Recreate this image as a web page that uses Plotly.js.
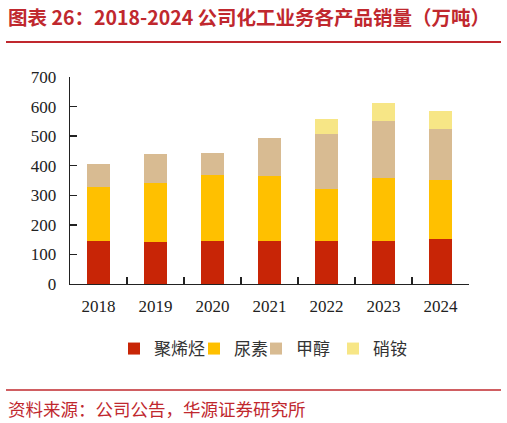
<!DOCTYPE html>
<html>
<head>
<meta charset="utf-8">
<script src="https://cdn.plot.ly/plotly-3.0.1.min.js"></script>
<style>
  html, body { margin: 0; padding: 0; background: #fff; }
  #chart { width: 507px; height: 423px; }
</style>
</head>
<body>
<div id="chart"></div>
<script>
var years = ['2018', '2019', '2020', '2021', '2022', '2023', '2024'];

// 万吨
var polyolefin = [144, 142, 144, 144, 144, 146, 151];
var urea = [184, 198, 226, 222, 178, 213, 201];
var methanol = [77, 99, 72, 127, 185, 191, 171];
var ammoniumNitrate = [null, null, null, null, 52, 62, 62];

var names = ['聚烯烃', '尿素', '甲醇', '硝铵'];
var colours = ['#C82506', '#FFC000', '#D8BB92', '#F7E686'];
var series = [polyolefin, urea, methanol, ammoniumNitrate];
// legend entry widths, so the entries sit as tight as in the source
var entryWidths = [35, 17, 32, 34];

var red = '#C0282E';
var serif = '"Liberation Serif", "Times New Roman", serif';
var cjk = '"Noto Sans CJK SC", sans-serif';

// plot box in pixels, used to place the title, rules and source line
var plotLeft = 70, plotRight = 469, plotTop = 77, plotBottom = 284;
function px(x) { return (x - plotLeft) / (plotRight - plotLeft); }
function py(y) { return (plotBottom - y) / (plotBottom - plotTop); }

var data = [];
for (var i = 0; i < series.length; i++) {
  data.push({
    type: 'bar',
    name: names[i],
    x: years,
    y: series[i],
    width: 0.42,
    legendwidth: entryWidths[i],
    marker: { color: colours[i], line: { width: 0 } },
    hoverinfo: 'skip'
  });
}

var layout = {
  width: 507,
  height: 423,
  margin: { l: plotLeft, r: 507 - plotRight, t: plotTop, b: 423 - plotBottom, pad: 0 },
  paper_bgcolor: '#ffffff',
  plot_bgcolor: '#ffffff',
  barmode: 'stack',
  showlegend: true,
  xaxis: {
    type: 'category',
    showgrid: false,
    zeroline: false,
    showline: true,
    linecolor: '#222',
    linewidth: 1.3,
    ticks: 'inside',
    tickson: 'boundaries',
    ticklen: 7,
    tickcolor: '#222',
    tickwidth: 1.3,
    tickfont: { family: serif, size: 17, color: '#222' },
    ticklabelstandoff: 6
  },
  yaxis: {
    range: [0, 700],
    dtick: 100,
    showgrid: false,
    zeroline: false,
    showline: true,
    linecolor: '#222',
    linewidth: 1.3,
    ticks: 'inside',
    ticklen: 7,
    tickcolor: '#222',
    tickwidth: 1.3,
    tickfont: { family: serif, size: 17, color: '#222' },
    ticklabelstandoff: 9
  },
  legend: {
    orientation: 'h',
    x: px(114),
    xanchor: 'left',
    y: py(349),
    yanchor: 'middle',
    font: { family: cjk, size: 17, color: '#333' },
    itemwidth: 30,
    traceorder: 'normal'
  },
  shapes: [
    { type: 'line', xref: 'paper', yref: 'paper', x0: px(6), x1: px(501), y0: py(42), y1: py(42),
      line: { color: red, width: 2 } },
    { type: 'line', xref: 'paper', yref: 'paper', x0: px(6), x1: px(501), y0: py(390), y1: py(390),
      line: { color: red, width: 1.5 } }
  ],
  annotations: [
    { xref: 'paper', yref: 'paper', x: px(6), y: py(16), xanchor: 'left', yanchor: 'middle',
      showarrow: false, text: '<b>图表 26：2018-2024 公司化工业务各产品销量（万吨）</b>',
      font: { family: cjk, size: 19.5, color: red } },
    { xref: 'paper', yref: 'paper', x: px(6), y: py(408), xanchor: 'left', yanchor: 'middle',
      showarrow: false, text: '资料来源：公司公告，华源证券研究所',
      font: { family: cjk, size: 17.5, color: red } }
  ]
};

Plotly.newPlot('chart', data, layout, { displayModeBar: false, staticPlot: true });
</script>
</body>
</html>
